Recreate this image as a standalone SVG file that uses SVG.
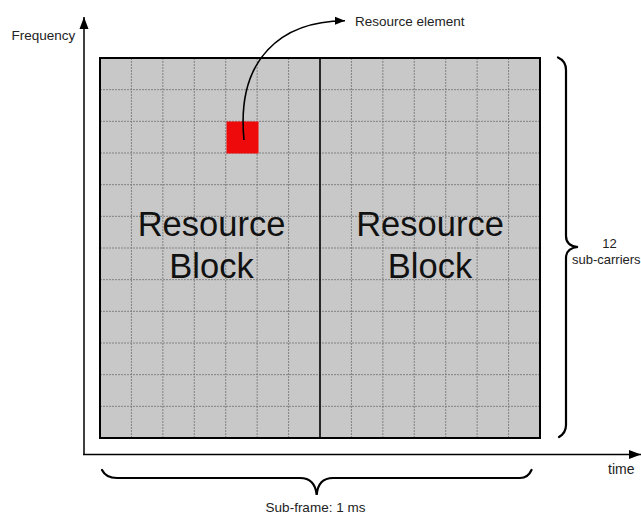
<svg xmlns="http://www.w3.org/2000/svg" width="641" height="516" viewBox="0 0 641 516">
<style>
.lbl{font-family:"Liberation Sans",Arial,sans-serif;fill:#222}
.big{font-family:"Liberation Sans",Arial,sans-serif;font-size:34.5px;fill:#111;text-anchor:middle}
.gl{stroke:#7a7a7a;stroke-width:0.9;stroke-dasharray:2 1;fill:none}
.ax{stroke:#000;stroke-width:1.5;fill:none}
.br{stroke:#000;stroke-width:2.2;fill:none;stroke-linecap:round}
</style>
<defs>
<marker id="ah" viewBox="0 0 10 10" refX="10" refY="5" markerWidth="10" markerHeight="10" markerUnits="userSpaceOnUse" orient="auto">
<path d="M0,1 L10,5 L0,9 Z" fill="#000"/>
</marker>
<marker id="ah2" viewBox="0 0 12 10" refX="12" refY="5" markerWidth="12" markerHeight="10" markerUnits="userSpaceOnUse" orient="auto">
<path d="M0,0.5 L12,5 L0,9.5 Z" fill="#000"/>
</marker>
</defs>
<rect width="641" height="516" fill="#fff"/>
<g id="grid">
<rect x="100" y="58" width="440" height="380" fill="#c8c8c8"/>
<path class="gl" d="M131.43,58V438M162.86,58V438M194.29,58V438M225.71,58V438M257.14,58V438M288.57,58V438M351.43,58V438M382.86,58V438M414.29,58V438M445.71,58V438M477.14,58V438M508.57,58V438"/>
<path class="gl" d="M100,89.67H540M100,121.33H540M100,153H540M100,184.67H540M100,216.33H540M100,248H540M100,279.67H540M100,311.33H540M100,343H540M100,374.67H540M100,406.33H540"/>
<rect id="resource-element-cell" x="226.5" y="121.5" width="32" height="32" fill="#ee0a0a"/>
<line x1="320" y1="58" x2="320" y2="438" stroke="#000" stroke-width="1.6"/>
<rect x="100" y="58" width="440" height="380" fill="none" stroke="#000" stroke-width="2"/>
</g>
<g id="rb1">
<text class="big" x="211.5" y="236">Resource</text>
<text class="big" x="211.5" y="277.5">Block</text>
</g>
<g id="rb2">
<text class="big" x="430" y="236">Resource</text>
<text class="big" x="430" y="277.5">Block</text>
</g>
<g id="axes">
<line class="ax" x1="84" y1="455" x2="84" y2="17" marker-end="url(#ah2)"/>
<line class="ax" x1="83" y1="454.5" x2="641" y2="454.5" marker-end="url(#ah2)"/>
<text class="lbl" x="11.5" y="40" font-size="13.5">Frequency</text>
<text class="lbl" x="608" y="474" font-size="14">time</text>
</g>
<g id="resource-element-label">
<text class="lbl" x="355" y="26" font-size="13.5">Resource element</text>
</g>
<g id="subcarriers">
<path class="br" d="M558,57.5 Q566,61 566,70 V236 Q566,246 578,247 Q566,248 566,258 V425 Q566,433 559,437"/>
<text class="lbl" x="609.5" y="248" font-size="13" text-anchor="middle">12</text>
<text class="lbl" x="572" y="263.5" font-size="13">sub-carriers</text>
</g>
<g id="subframe">
<path class="br" d="M102,470 Q106,478 117,478 H300 Q315,478 316.7,495 Q318,478 333,478 H520 Q528,478 531.5,470"/>
<text class="lbl" x="315.5" y="512" font-size="13.5" text-anchor="middle">Sub-frame: 1 ms</text>
</g>
<g id="connectors">
<path d="M244,140 C236,58 282,21 345,20.7" fill="none" stroke="#000" stroke-width="1.6" marker-end="url(#ah)"/>
</g>
</svg>
